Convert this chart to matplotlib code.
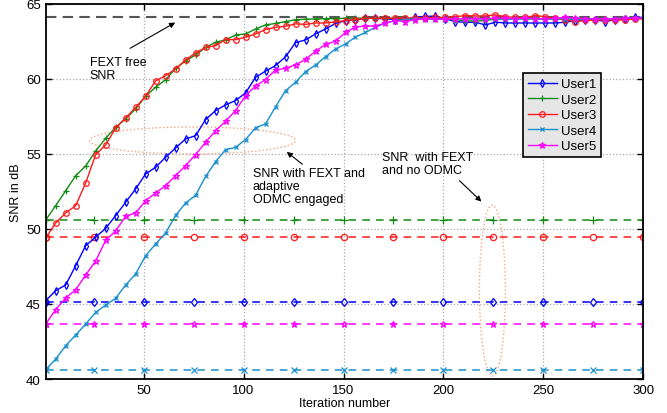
import matplotlib
matplotlib.use('Agg')
import matplotlib.pyplot as plt
from matplotlib.patches import Ellipse

plt.rcParams['font.family'] = ['Liberation Sans', 'DejaVu Sans']

# iterations where SNR was sampled (every 5, plus the last one)
iters = list(range(1, 297, 5)) + [300]

user1 = [45.22, 45.89, 46.27, 47.55, 48.89, 49.45, 50.04, 50.89, 51.78, 52.67,
         53.67, 54.11, 54.78, 55.4, 56.0, 56.22, 57.29, 57.89, 58.27, 58.56,
         59.07, 60.11, 60.52, 60.89, 61.48, 62.42, 62.6, 63.0, 63.33, 63.7,
         63.89, 63.95, 64.04, 64.04, 64.0, 63.96, 63.96, 64.11, 64.18, 64.18,
         64.0, 63.82, 63.78, 63.78, 63.6, 63.78, 63.73, 63.73, 63.73, 63.73,
         63.73, 63.73, 63.78, 63.89, 63.96, 63.96, 63.82, 63.96, 64.02, 64.11,
         64.1]
user2 = [50.6, 51.55, 52.55, 53.55, 54.2, 55.2, 56.04, 56.78, 57.35, 58.0,
         58.85, 59.45, 59.95, 60.7, 61.2, 61.6, 62.1, 62.45, 62.6, 62.93,
         63.0, 63.33, 63.6, 63.7, 63.82, 63.95, 63.98, 64.0, 64.02, 64.02,
         64.05, 64.05, 64.05, 64.05, 64.05, 64.03, 64.0, 64.0, 64.02, 64.0,
         63.98, 63.95, 63.88, 63.85, 63.9, 63.98, 64.0, 64.0, 64.02, 64.0,
         64.0, 63.98, 64.0, 63.98, 63.98, 64.0, 64.0, 64.02, 64.05, 64.05,
         64.05]
user3 = [49.4, 50.4, 51.07, 51.55, 53.07, 54.95, 55.6, 56.73, 57.4, 58.1,
         58.85, 59.87, 60.22, 60.67, 61.27, 61.73, 62.1, 62.22, 62.62, 62.62,
         62.78, 63.0, 63.29, 63.44, 63.51, 63.67, 63.64, 63.73, 63.73, 63.8,
         63.89, 63.95, 64.04, 64.04, 64.05, 64.05, 64.05, 64.08, 64.08, 64.1,
         64.1, 64.15, 64.22, 64.2, 64.2, 64.27, 64.15, 64.1, 64.1, 64.22,
         64.15, 64.04, 63.95, 63.82, 63.9, 63.92, 63.95, 63.92, 63.95, 64.0,
         64.0]
user4 = [40.62, 41.33, 42.22, 42.93, 43.67, 44.44, 44.93, 45.38, 46.27, 47.0,
         48.22, 49.0, 49.73, 50.91, 51.73, 52.25, 53.5, 54.49, 55.29, 55.44,
         55.96, 56.75, 57.0, 58.15, 59.22, 59.78, 60.49, 60.93, 61.48, 62.0,
         62.33, 62.8, 63.1, 63.44, 63.73, 63.89, 63.95, 64.0, 64.0, 63.98,
         64.0, 64.02, 64.0, 64.0, 64.02, 64.0, 64.0, 63.98, 64.0, 64.02,
         64.0, 64.0, 64.02, 64.0, 64.0, 64.02, 64.0, 64.02, 64.05, 64.05,
         64.05]
user5 = [43.67, 44.62, 45.4, 45.95, 46.93, 47.87, 49.24, 49.87, 50.84, 51.07,
         51.89, 52.4, 52.89, 53.56, 54.22, 54.96, 55.78, 56.55, 57.18, 57.89,
         58.89, 59.53, 59.96, 60.6, 60.7, 60.94, 61.3, 61.85, 62.3, 62.52,
         63.1, 63.47, 63.52, 63.53, 63.73, 63.89, 63.82, 63.96, 64.0, 64.0,
         63.98, 64.0, 64.02, 64.0, 64.02, 64.05, 64.05, 64.02, 64.05, 64.02,
         64.0, 64.05, 64.1, 64.05, 64.02, 64.0, 64.02, 64.02, 64.05, 64.05,
         64.05]

# SNR with FEXT and no ODMC (constant per user)
no_odmc_iters = [1] + list(range(25, 301, 25))
no_odmc = [45.1, 50.62, 49.47, 40.62, 43.65]
fext_free = 64.15

labels = ['User1', 'User2', 'User3', 'User4', 'User5']
colors = ['#0000ff', '#138a13', '#ff1a1a', '#1a8fcc', '#ff00ff']
markers = ['d', '+', 'o', 'x', '*']
msizes = [4, 5, 4, 3.5, 4.5]
curves = [user1, user2, user3, user4, user5]

fig = plt.figure(figsize=(6.67, 4.14), dpi=100)
ax = fig.add_axes([0.0685, 0.0821, 0.896, 0.906])

ax.plot([1, 300], [fext_free, fext_free], color='#555555', ls='--', lw=1.5,
        dashes=(5, 3))

for lev, c, m, ms in zip(no_odmc, colors, markers, msizes):
    ax.plot([no_odmc_iters[0], no_odmc_iters[-1]], [lev, lev], color=c, ls='--',
            lw=1.1, dashes=(5, 4))
    ax.plot(no_odmc_iters, [lev] * len(no_odmc_iters), color=c, ls='none',
            marker=m, ms=ms + 0.5, mfc='none', mew=0.9)

for y, lab, c, m, ms in zip(curves, labels, colors, markers, msizes):
    ax.plot(iters, y, color=c, lw=1.0, marker=m, ms=ms, mfc='none', mew=0.9,
            markevery=slice(0, len(iters) - 1), label=lab)

# annotations
ax.annotate('', xy=(67, 63.85), xytext=(42, 61.95),
            arrowprops=dict(arrowstyle='-|>', color='black', lw=0.8,
                            mutation_scale=8))
ax.text(23, 61.55, 'FEXT free\nSNR', fontsize=9, va='top', ha='left',
        linespacing=1.1)

ax.add_patch(Ellipse((74.5, 55.9), 103, 1.8, fill=False, ls=':',
                     color='#f5a57a', lw=1.0))
ax.annotate('', xy=(120.5, 55.25), xytext=(130.5, 54.2),
            arrowprops=dict(arrowstyle='-|>', color='black', lw=0.8,
                            mutation_scale=8))
ax.text(104.5, 54.1, 'SNR with FEXT and\nadaptive\nODMC engaged', fontsize=9,
        va='top', ha='left', linespacing=1.1)

ax.add_patch(Ellipse((224.5, 45.9), 13, 11.4, angle=-2, fill=False, ls=':',
                     color='#f5a57a', lw=1.0))
ax.annotate('', xy=(220, 51.7), xytext=(207, 53.35),
            arrowprops=dict(arrowstyle='-|>', color='black', lw=0.8,
                            mutation_scale=8))
ax.text(169.5, 55.2, 'SNR  with FEXT\nand no ODMC', fontsize=9, va='top',
        ha='left', linespacing=1.1)

ax.set_xlim(1, 300)
ax.set_ylim(40, 65)
ax.set_xticks([50, 100, 150, 200, 250, 300])
ax.set_yticks([40, 45, 50, 55, 60, 65])
ax.tick_params(direction='in', top=True, right=True, labelsize=9.5,
               length=4, width=1)
for s in ax.spines.values():
    s.set_linewidth(1.3)
ax.grid(True, ls=':', color='#aaaaaa', lw=0.9)
ax.set_xlabel('Iteration number', fontsize=9, labelpad=1)
ax.set_ylabel('SNR in dB', fontsize=9, labelpad=3)

leg = ax.legend(loc='upper left', bbox_to_anchor=(0.799, 0.815), fontsize=9.5,
                frameon=True, fancybox=False, framealpha=1, edgecolor='black',
                facecolor='#e6e6e6', handlelength=2.2, handletextpad=0.3,
                borderpad=0.35, labelspacing=0.25, borderaxespad=0)
leg.get_frame().set_linewidth(1.2)

fig.savefig('out.png', dpi=100)
